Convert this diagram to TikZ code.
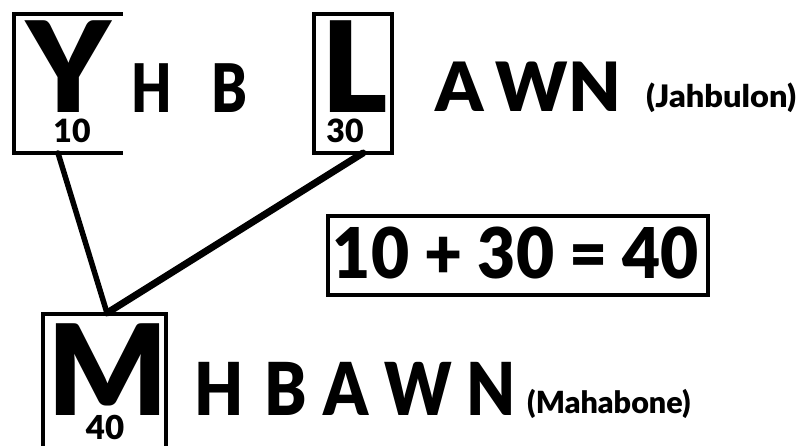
\documentclass[tikz,border=0pt]{standalone}
\usepackage{fontspec}
\setmainfont{Liberation Sans}
\newfontfamily\hvy{Lato Black}
\begin{document}
\begin{tikzpicture}[x=1pt,y=-1pt,
  frame/.style={line width=4pt, line cap=rect},
  link/.style={line width=5.5pt, line cap=round},
  biglet/.style={inner sep=0pt, anchor=base, text depth=0pt, font=\fontsize{126}{126}\hvy\selectfont},
  midlet/.style={inner sep=0pt, anchor=base, text depth=0pt, font=\fontsize{70}{70}\hvy\selectfont},
  num/.style={inner sep=0pt, anchor=base, text depth=0pt, text height=23pt, font=\fontsize{32}{32}\hvy\selectfont},
  paren/.style={inner sep=0pt, anchor=base west, font=\fontsize{31}{31}\hvy\selectfont},
]
\useasboundingbox (0,0) rectangle (802,446);
\begin{scope}
\clip (0,0) rectangle (802,446);
% Y bracket box
\draw[frame] (121,14) -- (14,14) -- (14,153) -- (121,153);
% L box
\draw[frame] (314,14) rectangle (392,153);
% equation box
\draw[frame] (328,216) rectangle (708,295);
% M box
\draw[frame] (43,460) -- (43,314) -- (166,314) -- (166,460);
\end{scope}

% letters
\node[biglet] (Y) at (69,113) {Y};
\node[num] (n10) at (72,143) {10};
\node[midlet, font=\fontsize{67}{67}\hvy\selectfont] (H1) at (152,113) {\scalebox{0.78}[1]{H}};
\node[midlet, font=\fontsize{67}{67}\hvy\selectfont] (B1) at (229,113) {\scalebox{0.8}[1]{B}};
\node[biglet] (L) at (355,113) {L};
\node[num] (n30) at (345,143) {30};
\node[midlet, font=\fontsize{68}{68}\hvy\selectfont] (A1) at (460,112) {A};
\node[midlet, font=\fontsize{68}{68}\hvy\selectfont] (W1) at (532,112) {W};
\node[midlet, font=\fontsize{68}{68}\hvy\selectfont] (N1) at (595,112) {N};
\node[paren] (jah) at (646,108) {\scalebox{1.05}[1]{(Jahbulon)}};

\node[midlet, font=\fontsize{70}{70}\hvy\selectfont] (eq) at (516,278) {\scalebox{0.94}[1]{10 + 30 = 40}};

\node[biglet] (M) at (108,415) {M};
\node[num, text height=24pt, font=\fontsize{33}{33}\hvy\selectfont] (n40) at (105,439) {40};
\node[midlet, font=\fontsize{73}{73}\hvy\selectfont] (H2) at (219,415) {\scalebox{0.87}[1]{H}};
\node[midlet, font=\fontsize{73}{73}\hvy\selectfont] (B2) at (286,415) {\scalebox{0.87}[1]{B}};
\node[midlet, font=\fontsize{73}{73}\hvy\selectfont] (A2) at (346,415) {\scalebox{0.87}[1]{A}};
\node[midlet, font=\fontsize{73}{73}\hvy\selectfont] (W2) at (418,415) {\scalebox{0.87}[1]{W}};
\node[midlet, font=\fontsize{73}{73}\hvy\selectfont] (N2) at (491,415) {\scalebox{0.87}[1]{N}};
\node[paren, font=\fontsize{30.5}{30.5}\hvy\selectfont] (mah) at (527,413) {(Mahabone)};

% connectors
\coordinate (ybot) at (58,153);
\coordinate (lbot) at (363,153);
\coordinate (mtop) at (107,313);
\draw[link] (ybot) -- (mtop);
\draw[link, line width=7pt] (lbot) -- (mtop);
\end{tikzpicture}
\end{document}
